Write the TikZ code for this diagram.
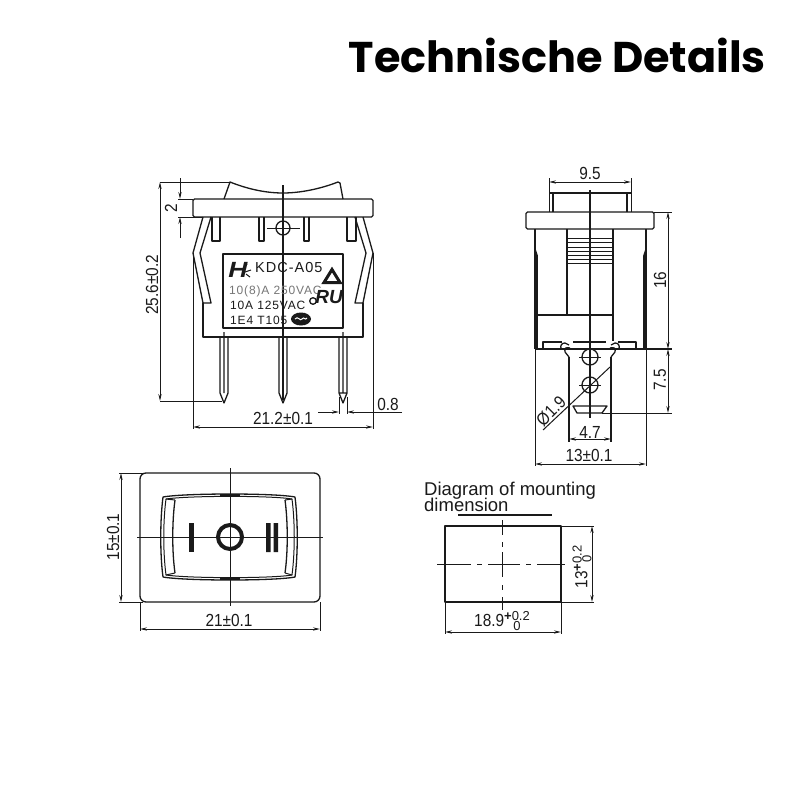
\documentclass[tikz,border=0pt]{standalone}
\usepackage{fontspec}
\setmainfont{Liberation Sans}
\newfontfamily\titlefont{Poppins}
\newfontfamily\plateface[LetterSpace=7]{Liberation Sans}
\newfontfamily\dimface[FakeStretch=0.88]{Liberation Sans}
\usetikzlibrary{arrows.meta}
\definecolor{ink}{HTML}{1A1A1A}
\newcommand{\plusminus}{\raisebox{-4pt}{\normalfont\fontsize{13}{13}\selectfont\shortstack[c]{\textbf{+}0.2\\[-2.5pt]0}}}
\tikzset{
  outline/.style={draw=ink,line width=1.3pt,line join=round},
  thinline/.style={draw=ink,line width=1pt},
  heavy/.style={draw=ink,line width=1.9pt},
  dimline/.style={draw=ink,line width=1pt,{Stealth[length=7pt,width=3.2pt]}-{Stealth[length=7pt,width=3.2pt]}},
  leader/.style={draw=ink,line width=1pt,-{Stealth[length=7pt,width=3.2pt]}},
  dimtext/.style={font=\fontsize{17.5}{17.5}\selectfont\dimface,text=ink,inner sep=0pt},
  platetext/.style={font=\fontsize{12}{12}\selectfont\plateface,text=ink,anchor=west,inner sep=0pt},
  mounttext/.style={anchor=base west,inner sep=0pt,text=ink,font=\fontsize{18.5}{18.5}\selectfont},
}
\begin{document}
\begin{tikzpicture}[x=1pt,y=-1pt]
\useasboundingbox (0,0) rectangle (800,800);
\fill[white] (0,0) rectangle (800,800);
\node[anchor=base east,inner sep=0pt,text=black,font=\fontsize{43}{43}\selectfont\titlefont\bfseries] (title) at (766,73) {Technische Details};

% ---------- front view
\draw[outline] (224,199) -- (230,182) .. controls (250,190) and (268,193) .. (283,193) .. controls (300,193) and (320,189) .. (338,182) -- (340,183) -- (343,199);
\draw[outline,rounded corners=1.5pt] (193,199) rectangle (373,217);
\draw[outline] (203,217) -- (193,253) -- (203,303) -- (211,303) -- (200,253) -- (211,217);
\draw[outline] (363,217) -- (373,253) -- (363,303) -- (355,303) -- (366,253) -- (355,217);
\draw[outline] (203,303) -- (203,337) -- (363,337) -- (363,303);
\draw[outline] (212,217) -- (212,241) -- (220,241) -- (220,217);
\draw[outline] (259,217) -- (259,241) -- (264,241) -- (264,217);
\draw[outline] (304,217) -- (304,241) -- (309,241) -- (309,217);
\draw[outline] (347,217) -- (347,241) -- (356,241) -- (356,217);
\draw[outline] (283,228) circle (7);
\draw[thinline] (267,228) -- (300,228);
\draw[outline] (223,254) rectangle (343,328);
\draw[outline] (220,337) -- (220,393) -- (224,403) -- (228,393) -- (228,337) (224,332) -- (224,393);
\draw[outline] (279,337) -- (279,393) -- (283,403) -- (287,393) -- (287,337);
\draw[outline] (339,337) -- (339,393) -- (343,403) -- (347,393) -- (347,337) (339,393) -- (347,393) (343,332) -- (343,393);
\draw[line width=1.3pt,draw=ink] (283,185) -- (283,400);

\node[anchor=center,inner sep=0pt,text=ink,font=\fontsize{22}{22}\selectfont\bfseries\itshape] (logo) at (238,270) {\scalebox{1.2}[1]{H}};
\draw[thinline] (245,272) -- (251,270) (246,274) -- (250,277) (244,268) -- (247,264);
\node[platetext,font=\fontsize{14.5}{14.5}\selectfont\plateface] (model) at (255,268) {KDC-A05};
\node[platetext,text=ink!60] (r1) at (229,291) {10(8)A 250VAC};
\node[platetext] (r2) at (230,305) {10A 125VAC};
\node[platetext] (r3) at (230,320) {1E4 T105};
\draw[draw=ink,line width=3pt,line join=miter] (324,282.5) -- (340,282.5) -- (332,269.5) -- cycle;
\node[anchor=center,inner sep=0pt,text=ink,font=\fontsize{19}{19}\selectfont\bfseries\itshape] (ul) at (329,297) {RU};
\draw[outline] (313,301) circle (3.3);
\fill[ink] (301,319) ellipse (10 and 6.5);
\draw[white,line width=1pt] (295,319) .. controls (298,315) and (300,322) .. (302,319) .. controls (304,316) and (305,321) .. (307,318);

% front dimensions
\draw[thinline] (160,182) -- (230,182) (160,401) -- (222,401);
\draw[dimline] (160,182) -- (160,401);
\node[dimtext,rotate=90] (d256) at (152,285) {25.6±0.2};
\draw[thinline] (178,199) -- (193,199) (178,217) -- (203,217);
\draw[leader] (180,178) -- (180,199);
\draw[leader] (180,238) -- (180,217);
\node[dimtext,rotate=90] (d2) at (171,208) {2};
\draw[thinline] (193,253) -- (193,429) (373,253) -- (373,429);
\draw[dimline] (193,427) -- (373,427);
\node[dimtext] (d212) at (283,418) {21.2±0.1};
\draw[thinline] (339,397) -- (339,414) (347,397) -- (347,414);
\draw[leader] (318,412) -- (339,412);
\draw[leader] (402,412) -- (347,412);
\node[dimtext] (d08) at (388,404) {0.8};

% ---------- side view
\draw[thinline] (549,178) -- (549,212) (631,178) -- (631,212);
\draw[dimline] (549,182) -- (631,182);
\node[dimtext] (d95) at (590,173) {9.5};
\draw[outline] (549,193) -- (631,193);
\draw[outline] (553,193) -- (553,212) (627,193) -- (627,212);
\draw[outline,rounded corners=1.5pt] (526,212) rectangle (654,229);
\draw[outline] (535,229) -- (535,349) (646,229) -- (646,349) (535,349) -- (672,349);
\draw[heavy] (535,250) -- (537,256) -- (537,349) (646,250) -- (644,256) -- (644,349);
\draw[outline] (567,229) -- (567,315) (613,229) -- (613,341);
\draw[outline] (537,315) -- (613,315);
\foreach \yy in {238,242,247,251,255,259,263} \draw[thinline] (567,\yy) -- (613,\yy);
\draw[outline] (543,349) -- (543,342) -- (562,342) (573,342) -- (606,342) (618,342) -- (636,342) -- (636,349);
\draw[outline] (561,349) .. controls (560,345) and (562,343) .. (565,343) -- (569,345) (565,352) -- (569,357) (565,352) .. controls (564,348) and (566,347) .. (570,348);
\draw[outline] (619,349) .. controls (620,345) and (618,343) .. (615,343) -- (611,345) (615,352) -- (611,357) (615,352) .. controls (616,348) and (614,347) .. (610,348);
\draw[outline] (569,357) -- (569,442) (611,357) -- (611,442);
\draw[outline] (573,406) -- (607,406) -- (602,413) -- (577,413) -- cycle;
\draw[outline] (590,357) circle (8) (590,385) circle (8);
\draw[thinline] (579,357) -- (601,357) (579,385) -- (601,385);
\draw[line width=1.3pt,draw=ink] (590,190) -- (590,418);
\draw[thinline] (543,430) -- (610,367);
\node[dimtext,rotate=45] (d19) at (551,411) {Ø1.9};
\draw[thinline] (654,212) -- (672,212) (602,413) -- (672,413);
\draw[dimline] (668,212) -- (668,349);
\draw[dimline] (668,349) -- (668,413);
\node[dimtext,rotate=90] (d16) at (660,280) {16};
\node[dimtext,rotate=90] (d75) at (660,380) {7.5};
\draw[dimline] (569,439) -- (611,439);
\node[dimtext] (d47) at (590,432) {4.7};
\draw[thinline] (535,349) -- (535,466) (646,349) -- (646,466);
\draw[dimline] (535,464) -- (646,464);
\node[dimtext] (d13) at (589,455) {13±0.1};

% ---------- top view
\draw[outline,rounded corners=6pt] (140,473) rectangle (320,602);
\draw[outline] (163,497) .. controls (185,493) and (275,493) .. (295,497) .. controls (298,520) and (298,555) .. (295,577) .. controls (275,581) and (185,581) .. (163,577) .. controls (160,555) and (160,520) .. (163,497) -- cycle;
\draw[thinline] (166,499) .. controls (190,495.5) and (272,495.5) .. (292,499) .. controls (295,522) and (295,552) .. (292,575) .. controls (272,578.5) and (190,578.5) .. (166,575) .. controls (163,552) and (163,522) .. (166,499) -- cycle;
\draw[outline] (175,500) .. controls (172,522) and (172,552) .. (175,573) (285,500) .. controls (288,522) and (288,552) .. (285,573);
\draw[thinline] (175,500) -- (166,499) (285,500) -- (292,499) (175,573) -- (166,575) (285,573) -- (292,575);
\draw[heavy,line width=2.4pt] (220,495) -- (240,495) (220,579) -- (240,579);
\draw[thinline] (230,468) -- (230,606) (137,537) -- (323,537);
\fill[ink] (189,523) rectangle (194,552);
\fill[ink] (266,523) rectangle (270.5,552) (273.5,523) rectangle (278,552);
\draw[draw=ink,line width=4pt] (230,537) circle (12);

\draw[thinline] (119,473) -- (143,473) (119,602) -- (143,602);
\draw[dimline] (121,473) -- (121,602);
\node[dimtext,rotate=90] (d15) at (113,537) {15±0.1};
\draw[thinline] (140,602) -- (140,631) (320,602) -- (320,631);
\draw[dimline] (140,629) -- (320,629);
\node[dimtext] (d21) at (229,620) {21±0.1};

% ---------- mounting
\node[mounttext] (m1) at (424,495) {Diagram of mounting};
\node[mounttext] (m2) at (424,511) {dimension};
\draw[outline] (458,515) -- (552,515);
\draw[outline] (445,526) rectangle (561,602);
\draw[thinline] (437,564) -- (471,564) (477,564) -- (482,564) (488,564) -- (520,564) (526,564) -- (531,564) (537,564) -- (565,564);
\draw[thinline] (502,520) -- (502,535) (502,542) -- (502,547) (502,552) -- (502,577) (502,585) -- (502,590) (502,597) -- (502,610);
\draw[thinline] (561,526) -- (594,526) (561,602) -- (594,602);
\draw[dimline] (592,526) -- (592,602);
\draw[thinline] (445,602) -- (445,634) (561,602) -- (561,634);
\draw[dimline] (445,632) -- (561,632);
\node[dimtext] (d189) at (502,621) {18.9\plusminus};
\node[dimtext,rotate=90] (d13b) at (582,567) {13\plusminus};
\end{tikzpicture}
\end{document}
